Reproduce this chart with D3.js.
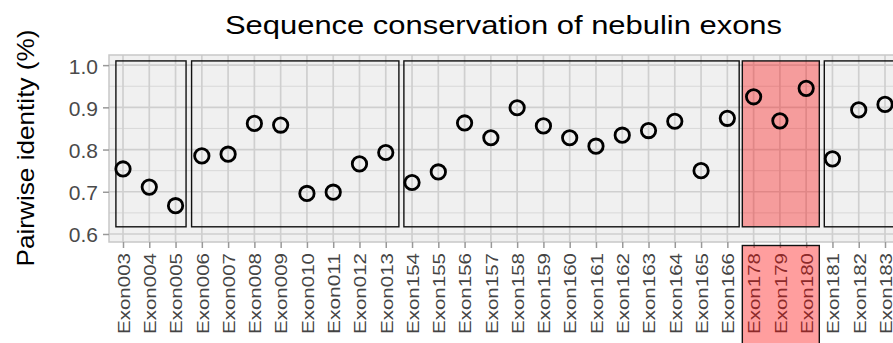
<!DOCTYPE html>
<html>
<head>
<meta charset="utf-8">
<script src="https://cdn.jsdelivr.net/npm/d3@7"></script>
<style>
  body { margin: 0; background: #fff; }
  text { font-family: "Liberation Sans", Arial, sans-serif; }
</style>
</head>
<body>
<div id="chart"></div>
<script>
// exon names on the x axis
var exons = ["Exon003","Exon004","Exon005","Exon006","Exon007","Exon008","Exon009","Exon010",
  "Exon011","Exon012","Exon013","Exon154","Exon155","Exon156","Exon157","Exon158","Exon159",
  "Exon160","Exon161","Exon162","Exon163","Exon164","Exon165","Exon166","Exon178","Exon179",
  "Exon180","Exon181","Exon182","Exon183"];

// pairwise identity per exon
var identity = [0.754,0.711,0.667,0.785,0.789,0.862,0.858,0.696,
  0.699,0.766,0.793,0.722,0.747,0.863,0.828,0.899,0.856,
  0.828,0.808,0.834,0.845,0.867,0.750,0.874,0.925,0.868,
  0.945,0.778,0.894,0.907];

var yTicks = [0.6, 0.7, 0.8, 0.9, 1.0];
var yMinor = [0.65, 0.75, 0.85, 0.95];

// group boxes, in category units (1 = first exon)
var boxStart = [0.73, 3.61, 11.69, 24.57, 27.69];
var boxEnd = [3.40, 11.50, 24.45, 27.50, 32.5];
var boxHighlight = [false, false, false, true, false];
var boxBottom = 0.617;
var boxTop = 1.010;

var width = 893, height = 343;
var panel = {left: 109, top: 55, bottom: 242, right: 900};

var svg = d3.select("#chart").append("svg")
  .attr("width", width)
  .attr("height", height);

var x = d3.scalePoint().domain(exons).range([123, 885]);
var xUnit = d3.scaleLinear().domain([1, exons.length]).range([123, 885]);
var y = d3.scaleLinear().domain([0.581, 1.024]).range([panel.bottom, panel.top]);

// panel background
svg.append("rect")
  .attr("x", panel.left).attr("y", panel.top)
  .attr("width", panel.right - panel.left).attr("height", panel.bottom - panel.top)
  .attr("fill", "#f0f0f0");

// grid
svg.selectAll(".minor").data(yMinor).enter().append("line")
  .attr("x1", panel.left).attr("x2", panel.right)
  .attr("y1", function(d) { return y(d); }).attr("y2", function(d) { return y(d); })
  .attr("stroke", "#d8d8d8").attr("stroke-width", 1);
svg.selectAll(".major").data(yTicks).enter().append("line")
  .attr("x1", panel.left).attr("x2", panel.right)
  .attr("y1", function(d) { return y(d); }).attr("y2", function(d) { return y(d); })
  .attr("stroke", "#cfcfcf").attr("stroke-width", 1.7);
svg.selectAll(".vgrid").data(exons).enter().append("line")
  .attr("x1", function(d) { return x(d); }).attr("x2", function(d) { return x(d); })
  .attr("y1", panel.top).attr("y2", panel.bottom)
  .attr("stroke", "#cfcfcf").attr("stroke-width", 1.7);

// panel border (top and left are visible)
svg.append("rect")
  .attr("x", panel.left).attr("y", panel.top)
  .attr("width", panel.right - panel.left).attr("height", panel.bottom - panel.top)
  .attr("fill", "none").attr("stroke", "#c8c8c8").attr("stroke-width", 1.5);

// y axis
var yAxis = svg.append("g")
  .attr("transform", "translate(" + panel.left + ",0)")
  .call(d3.axisLeft(y).tickValues(yTicks).tickFormat(d3.format(".1f")).tickSize(6).tickPadding(5));
yAxis.select(".domain").remove();
yAxis.selectAll("line").attr("stroke", "#999").attr("stroke-width", 1.5);
yAxis.selectAll("text").attr("fill", "#4a4a4a").style("font-size", "21px")
  .style("font-family", "Liberation Sans, Arial, sans-serif").attr("dy", "0.38em");

// x axis
var xAxis = svg.append("g")
  .attr("transform", "translate(0," + panel.bottom + ")")
  .call(d3.axisBottom(x).tickSize(6).tickPadding(0));
xAxis.select(".domain").remove();
xAxis.selectAll("line").attr("stroke", "#999").attr("stroke-width", 1.5);
xAxis.selectAll("text")
  .attr("fill", "#444")
  .style("font-size", "17px")
  .style("font-family", "Liberation Sans, Arial, sans-serif")
  .attr("text-anchor", "end")
  .attr("transform", "rotate(-90)")
  .attr("x", -11).attr("y", 0).attr("dy", "0.37em")
  .attr("textLength", 81).attr("lengthAdjust", "spacingAndGlyphs");

// group boxes
svg.selectAll(".box").data(boxStart).enter().append("rect")
  .attr("x", function(d) { return xUnit(d); })
  .attr("y", y(boxTop))
  .attr("width", function(d, i) { return xUnit(boxEnd[i]) - xUnit(d); })
  .attr("height", y(boxBottom) - y(boxTop))
  .attr("fill", function(d, i) { return boxHighlight[i] ? "rgba(255,0,0,0.35)" : "none"; })
  .attr("stroke", "#111").attr("stroke-width", 1.4);

// highlight box over the labels
boxStart.forEach(function(d, i) {
  if (!boxHighlight[i]) return;
  svg.append("rect")
    .attr("x", xUnit(d)).attr("y", panel.bottom + 3.5)
    .attr("width", xUnit(boxEnd[i]) - xUnit(d)).attr("height", 120)
    .attr("fill", "rgba(255,0,0,0.38)")
    .attr("stroke", "#111").attr("stroke-width", 1.4);
});

// points
svg.selectAll(".pt").data(identity).enter().append("circle")
  .attr("cx", function(d, i) { return x(exons[i]); })
  .attr("cy", function(d) { return y(d); })
  .attr("r", 7.2)
  .attr("fill", "none")
  .attr("stroke", "#000")
  .attr("stroke-width", 2.8);

// titles
svg.append("text")
  .attr("x", 225).attr("y", 34)
  .attr("textLength", 557).attr("lengthAdjust", "spacingAndGlyphs")
  .style("font-size", "26px")
  .attr("fill", "#000")
  .text("Sequence conservation of nebulin exons");

svg.append("text")
  .attr("transform", "translate(34,148) rotate(-90)")
  .attr("text-anchor", "middle")
  .attr("textLength", 237).attr("lengthAdjust", "spacingAndGlyphs")
  .style("font-size", "24px")
  .attr("fill", "#000")
  .text("Pairwise identity (%)");
</script>
</body>
</html>
